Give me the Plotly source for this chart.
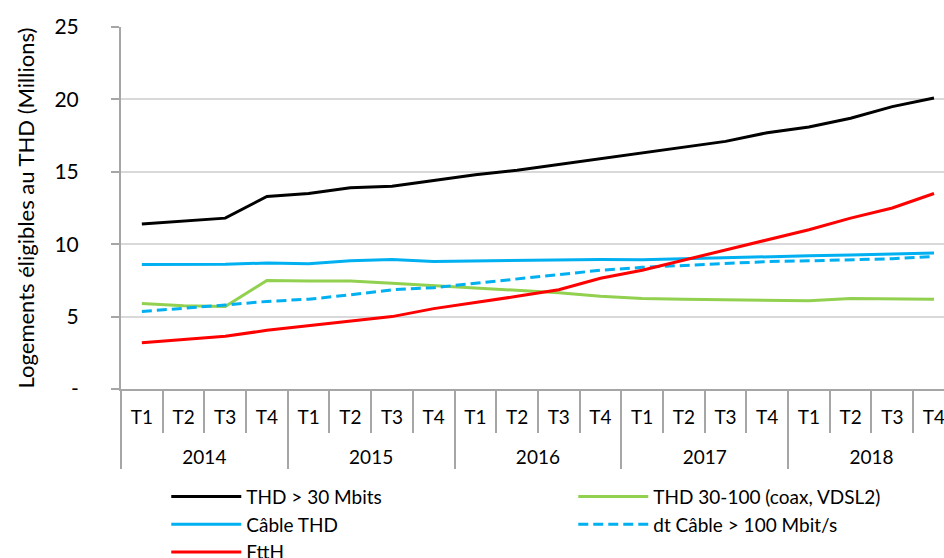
import plotly.graph_objects as go

years = ["2014"] * 4 + ["2015"] * 4 + ["2016"] * 4 + ["2017"] * 4 + ["2018"] * 4
quarters = ["T1", "T2", "T3", "T4"] * 5

thd30 = [11.4, 11.6, 11.8, 13.3, 13.5, 13.9, 14.0, 14.4, 14.8, 15.1, 15.5, 15.85,
         16.3, 16.7, 17.1, 17.7, 18.1, 18.7, 19.5, 20.1]
thd30_100 = [5.9, 5.75, 5.7, 7.5, 7.45, 7.45, 7.3, 7.15, 7.0, 6.8, 6.65, 6.4,
             6.25, 6.2, 6.15, 6.1, 6.1, 6.25, 6.25, 6.2]
cable = [8.6, 8.6, 8.62, 8.7, 8.65, 8.85, 8.95, 8.8, 8.85, 8.88, 8.92, 8.95,
         8.93, 9.0, 9.1, 9.15, 9.2, 9.25, 9.3, 9.4]
cable100 = [5.35, 5.55, 5.8, 6.05, 6.2, 6.5, 6.85, 7.0, 7.3, 7.55, 7.85, 8.2,
            8.4, 8.55, 8.7, 8.8, 8.85, 8.9, 9.0, 9.15]
ftth = [3.2, 3.45, 3.65, 4.05, 4.35, 4.7, 5.0, 5.55, 5.95, 6.4, 6.85, 7.65,
        8.2, 8.9, 9.6, 10.35, 11.0, 11.8, 12.5, 13.5]

yticks = [0, 5, 10, 15, 20, 25]
yticktext = ["-", "5", "10", "15", "20", "25"]

FONT = "Lato"
# quarter labels get an empty second line so the year row sits lower
quarter_labels = [q + "<br>\u00a0" for q in quarters]
x = [years, quarter_labels]

fig = go.Figure()
fig.add_trace(go.Scatter(x=x, y=thd30, name="THD > 30 Mbits", mode="lines",
                         line=dict(color="#000000", width=3)))
fig.add_trace(go.Scatter(x=x, y=thd30_100, name="THD 30-100 (coax, VDSL2)", mode="lines",
                         line=dict(color="#92d050", width=3)))
fig.add_trace(go.Scatter(x=x, y=cable, name="Câble THD", mode="lines",
                         line=dict(color="#00b0f0", width=3)))
fig.add_trace(go.Scatter(x=x, y=cable100, name="dt Câble > 100 Mbit/s", mode="lines",
                         line=dict(color="#00b0f0", width=3, dash="10px,5px")))
fig.add_trace(go.Scatter(x=x, y=ftth, name="FttH", mode="lines",
                         line=dict(color="#ff0000", width=3)))

fig.update_layout(
    width=944, height=558,
    margin=dict(l=121, r=0, t=27, b=169, autoexpand=False),
    paper_bgcolor="white", plot_bgcolor="white",
    font=dict(family=FONT, size=19, color="#000000"),
    showlegend=True,
    legend=dict(orientation="h", x=0.055, y=-0.245, xanchor="left", yanchor="top",
                font=dict(size=19), entrywidth=322, entrywidthmode="pixels",
                itemwidth=70, traceorder="normal", tracegroupgap=0),
    xaxis=dict(type="multicategory", range=[-0.5, 19.24],
               showline=True, linecolor="#a6a6a6", linewidth=2,
               showgrid=False, ticks="outside", tickson="boundaries",
               ticklen=42, tickcolor="#a6a6a6", tickwidth=2,
               ticklabelstandoff=10,
               showdividers=True, dividercolor="#a6a6a6", dividerwidth=2,
               tickfont=dict(size=19)),
    yaxis=dict(range=[0, 25], tickvals=yticks, ticktext=yticktext,
               showline=True, linecolor="#a6a6a6", linewidth=2,
               showgrid=True, gridcolor="#d9d9d9", gridwidth=2,
               ticks="outside", ticklen=8, tickcolor="#a6a6a6", tickwidth=2,
               ticklabelstandoff=28, zeroline=False,
               title=dict(text="Logements éligibles au THD (Millions)", font=dict(size=22),
                          standoff=14),
               tickfont=dict(size=21)),
)

fig.write_html("out.html")
